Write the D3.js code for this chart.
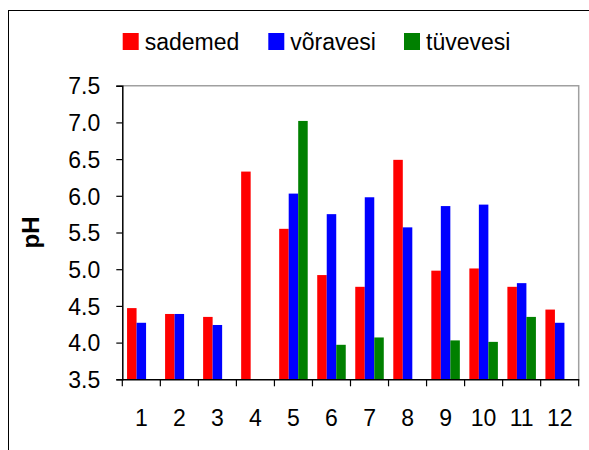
<!DOCTYPE html>
<html><head><meta charset="utf-8">
<script src="https://cdn.jsdelivr.net/npm/d3@7"></script>
<style>body{margin:0;background:#fff;}svg{display:block;}text{font-family:"Liberation Sans",Arial,sans-serif;fill:#000;}</style>
</head><body>
<svg id="c" width="589" height="450"></svg>
<script>
const categories = ["1","2","3","4","5","6","7","8","9","10","11","12"];
const seriesNames = ["sademed","võravesi","tüvevesi"];
const seriesColors = ["#ff0000","#0000ff","#008000"];
const sademed  = [4.47,4.39,4.35,6.33,5.55,4.92,4.76,6.49,4.98,5.01,4.76,4.45];
const voravesi = [4.27,4.39,4.24,null,6.03,5.75,5.98,5.57,5.86,5.88,4.81,4.27];
const tuvevesi = [null,null,null,null,7.02,3.97,4.07,null,4.03,4.01,4.35,null];
const yTicks = [3.5,4.0,4.5,5.0,5.5,6.0,6.5,7.0,7.5];
const yLabel = "pH";

const series = [sademed, voravesi, tuvevesi];
const svg = d3.select("#c");
const L = 122.3, R = 578.7, T = 85.7, B = 379.3;

// outer frame
svg.append("rect").attr("x",8.5).attr("y",10.5).attr("width",700).attr("height",700)
  .attr("fill","none").attr("stroke","#000").attr("stroke-width",1);

const x = d3.scaleBand().domain(categories).range([L,R]).paddingInner(0).paddingOuter(0);
const y = d3.scaleLinear().domain([3.5,7.5]).range([B,T]);
const bw = x.bandwidth()/4;
const sub = d3.scaleBand().domain(d3.range(3)).range([bw/2, x.bandwidth()-bw/2]);

// plot border (gray top/right)
svg.append("path").attr("d",`M${L},${T}H${R}V${B}`).attr("fill","none").attr("stroke","#a0a0a0").attr("stroke-width",1.5);

// bars
series.forEach((arr,si)=>{
  svg.append("g").selectAll("rect").data(arr.map((v,i)=>({v,c:categories[i]})).filter(d=>d.v!=null))
    .join("rect")
    .attr("x",d=>x(d.c)+sub(si)).attr("width",sub.bandwidth())
    .attr("y",d=>y(d.v)).attr("height",d=>B-y(d.v))
    .attr("fill",seriesColors[si]);
});

// y axis
const ya = svg.append("g").attr("transform",`translate(${L},0)`)
  .call(d3.axisLeft(y).tickValues(yTicks).tickFormat(d3.format(".1f")).tickSize(6).tickPadding(16));
ya.select(".domain").attr("stroke","#000").attr("stroke-width",1.5);
ya.selectAll(".tick line").attr("stroke","#000").attr("stroke-width",1.2);
ya.selectAll("text").style("font-size","23px").attr("dy","0.36em");

// x axis
const xa = svg.append("g").attr("transform",`translate(0,${B})`)
  .call(d3.axisBottom(x).tickSize(0).tickPadding(30));
xa.select(".domain").attr("stroke","#000").attr("stroke-width",1.5);
xa.selectAll("text").style("font-size","23px");
// category separator ticks
svg.append("g").selectAll("line").data(d3.range(13)).join("line")
  .attr("x1",i=>L+i*x.bandwidth()).attr("x2",i=>L+i*x.bandwidth())
  .attr("y1",B).attr("y2",B+7).attr("stroke","#000").attr("stroke-width",1.2);

// y label
svg.append("text").attr("transform",`translate(39,${(T+B)/2}) rotate(-90)`)
  .attr("text-anchor","middle").style("font-size","24px").style("font-weight","bold").text(yLabel);

// legend
const legX = [122.7,268.3,404];
seriesNames.forEach((n,i)=>{
  svg.append("rect").attr("x",legX[i]).attr("y",33).attr("width",16).attr("height",17).attr("fill",seriesColors[i]);
  svg.append("text").attr("x",legX[i]+22).attr("y",50).style("font-size","23px").text(n);
});
</script>
</body></html>
